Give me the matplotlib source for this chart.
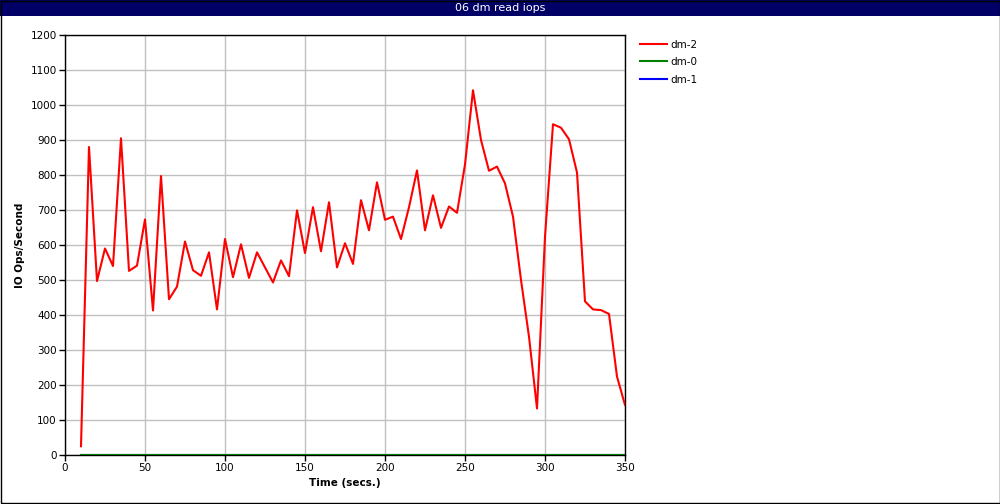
import matplotlib
matplotlib.use('Agg')
import matplotlib.pyplot as plt
from matplotlib.patches import Rectangle

# time axis (seconds) and read IOPS per device
times = list(range(10, 351, 5))
dm2 = [25, 880, 497, 590, 540, 905, 526, 541, 673, 413,
       797, 445, 481, 610, 528, 512, 579, 416, 617, 508,
       602, 506, 579, 536, 493, 556, 511, 699, 577, 708,
       582, 722, 536, 605, 546, 728, 642, 779, 672, 681,
       617, 708, 813, 642, 742, 649, 710, 692, 830, 1042,
       900, 812, 824, 776, 681, 500, 338, 133, 624, 945,
       935, 902, 807, 439, 416, 414, 403, 224, 143]
dm0 = [0] * len(times)
dm1 = [0] * len(times)

plt.rcParams['font.family'] = 'DejaVu Sans'

fig = plt.figure(figsize=(10, 5.04), dpi=100)
ax = fig.add_axes([0.065, 0.0972, 0.56, 0.8334])

ax.plot(times, dm1, color='#0000ff', lw=1.5, label='dm-1', zorder=3)
ax.plot(times, dm0, color='#008000', lw=1.5, label='dm-0', zorder=4)
ax.plot(times, dm2, color='#ff0000', lw=1.5, label='dm-2', zorder=5)

ax.set_xlim(0, 350)
ax.set_ylim(0, 1200)
ax.set_xticks(range(0, 351, 50))
ax.set_yticks(range(0, 1201, 100))
ax.grid(True, color='#c0c0c0', lw=1, zorder=0)
ax.set_axisbelow(True)
ax.tick_params(labelsize=7.5, length=4, width=1, direction='out', pad=2)
for sp in ax.spines.values():
    sp.set_linewidth(1)
    sp.set_color('black')

ax.set_xlabel('Time (secs.)', fontsize=7.5, fontweight='bold', labelpad=3)
ax.set_ylabel('IO Ops/Second', fontsize=7.5, fontweight='bold', labelpad=4)

# legend in same order as reference
h, l = ax.get_legend_handles_labels()
order = [2, 1, 0]
fig.legend([h[i] for i in order], [l[i] for i in order],
           loc='upper left', bbox_to_anchor=(0.631, 0.94), frameon=False,
           fontsize=7.5, handlelength=2.6, labelspacing=0.72, handletextpad=0.3)

# title bar
fig.patches.append(Rectangle((0, 1 - 16 / 504), 1, 16 / 504, transform=fig.transFigure,
                             facecolor='#000066', edgecolor='none', zorder=1))
fig.text(0.5, 1 - 8 / 504, '06 dm read iops', color='white', fontsize=8,
         ha='center', va='center')

# outer border
fig.patches.append(Rectangle((0.0005, 0.001), 0.999, 0.998, transform=fig.transFigure,
                             facecolor='none', edgecolor='black', lw=1, zorder=2))

fig.savefig('out.png', dpi=100)
